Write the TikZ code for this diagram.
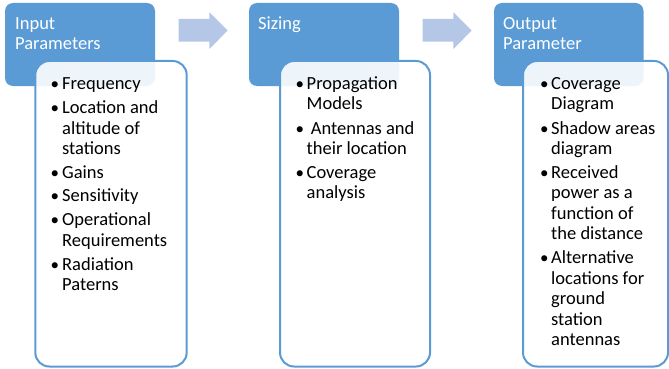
\documentclass[tikz,border=0pt]{standalone}
\usepackage{fontspec}
\setmainfont{Carlito}
\definecolor{hdrblue}{RGB}{91,155,213}
\definecolor{arrblue}{RGB}{180,199,231}
\tikzset{
  x=1pt, y=-1pt,
  hdrbox/.style={fill=hdrblue, draw=none, rounded corners=8pt},
  listbox/.style={fill=white, fill opacity=0.9, draw=hdrblue, draw opacity=1, line width=2pt, rounded corners=14pt},
  hdrtext/.style={anchor=base west, inner sep=0pt, text=white, font=\fontsize{18.5}{20.5}\selectfont},
  itemtext/.style={anchor=base west, inner sep=0pt, text=black, font=\fontsize{18.5}{20.5}\selectfont},
  bul/.style={anchor=base west, inner sep=0pt, text=black, font=\fontsize{17}{20.5}\selectfont},
  flowarrow/.style={fill=arrblue, draw=none}
}
\begin{document}
\begin{tikzpicture}
\useasboundingbox (0,0) rectangle (669,369);
% arrows
\fill[flowarrow] (178.5,19) -- (209.3,19) -- (209.3,12.3) -- (227.7,30.5) -- (209.3,49) -- (209.3,41.7) -- (178.5,41.7) -- cycle;
\fill[flowarrow] (422.7,19) -- (453.3,19) -- (453.3,12.3) -- (471.7,30.5) -- (453.3,49) -- (453.3,41.7) -- (422.7,41.7) -- cycle;
% headers
\path[hdrbox] (5,3) rectangle (155,86);
\path[hdrbox] (249,3) rectangle (399,86);
\path[hdrbox] (494,3) rectangle (643.5,86);
\node[hdrtext] (h1a) at (15,29.5) {Input};
\node[hdrtext] (h1b) at (15,50) {Parameters};
\node[hdrtext] (h2a) at (258,29.5) {Sizing};
\node[hdrtext] (h3a) at (503,29.5) {Output};
\node[hdrtext] (h3b) at (503,50) {Parameter};
% list boxes
\path[listbox] (35.3,61) rectangle (186.7,366.5);
\path[listbox] (280,61) rectangle (430,366.5);
\path[listbox] (523,61) rectangle (668,366.5);
% box 1 text
\foreach \y/\b/\t [count=\i] in {
  89/1/Frequency, 113.5/1/Location and, 134/0/altitude of, 154.5/0/stations,
  178/1/Gains, 201.5/1/Sensitivity, 225.5/1/Operational, 246/0/Requirements,
  270/1/Radiation, 290.5/0/Paterns}{
  \node[itemtext] (a\i) at (62,\y) {\t};
  \ifnum\b=1 \node[bul] (ab\i) at (50.5,\y) {•}; \fi
}
% box 2 text
\foreach \y/\b/\t [count=\i] in {
  89/1/Propagation, 109.5/0/Models, 134/1/{\ Antennas and}, 154.5/0/their location,
  178/1/Coverage, 198.5/0/analysis}{
  \node[itemtext] (b\i) at (306.5,\y) {\t};
  \ifnum\b=1 \node[bul] (bb\i) at (295.5,\y) {•}; \fi
}
% box 3 text
\foreach \y/\b/\t [count=\i] in {
  89/1/Coverage, 109.5/0/Diagram, 134/1/Shadow areas, 154.5/0/diagram,
  178/1/Received, 198.5/0/power as a, 219/0/function of, 239.5/0/the distance,
  263.5/1/Alternative, 284/0/locations for, 304.5/0/ground, 325/0/station, 345.5/0/antennas}{
  \node[itemtext] (c\i) at (551,\y) {\t};
  \ifnum\b=1 \node[bul] (cb\i) at (540,\y) {•}; \fi
}
\end{tikzpicture}
\end{document}
